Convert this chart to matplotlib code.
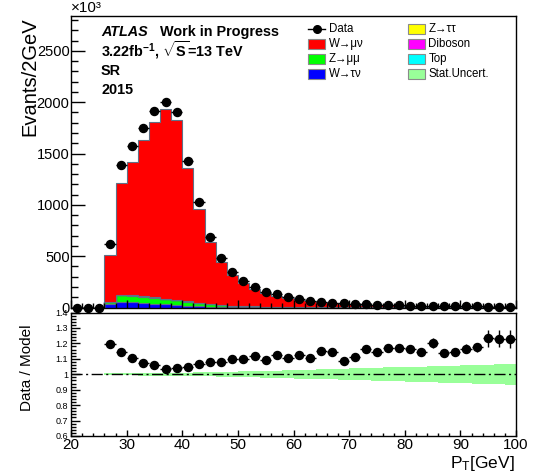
import numpy as np
import matplotlib
matplotlib.use("Agg")
import matplotlib.pyplot as plt
from matplotlib.patches import Rectangle
from matplotlib.lines import Line2D
from matplotlib.ticker import MultipleLocator, FuncFormatter

plt.rcParams['font.family'] = ['Liberation Sans', 'DejaVu Sans']
plt.rcParams['mathtext.fontset'] = 'custom'
plt.rcParams['mathtext.rm'] = 'Liberation Sans'
plt.rcParams['mathtext.it'] = 'Liberation Sans:italic'
plt.rcParams['mathtext.bf'] = 'Liberation Sans:bold'

# 2 GeV bins from 20 to 100 GeV
edges = np.arange(20, 102, 2)
centers = 0.5 * (edges[:-1] + edges[1:])

# events / 2 GeV (x10^3); first three bins are below the pT cut
data = [0, 0, 0,
        615, 1387, 1572, 1748, 1914, 2002, 1904, 1426, 1025, 690,
        480, 350, 262, 200, 155, 128, 103, 82, 68, 58,
        48, 40, 35, 31, 27, 24, 21, 18, 16, 15,
        13, 12, 11, 10, 9, 8, 7]
w_munu = [0, 0, 0,
          456.5, 1085.5, 1299.5, 1523.5, 1712, 1844.5, 1754, 1302.5, 916, 607.5,
          420.7, 300.3, 224.4, 168, 133, 106.4, 86.7, 67.1, 56.3, 45.9,
          38.2, 33.4, 28.3, 23.7, 20.8, 18.0, 15.5, 13.15, 11.77, 10.48,
          9.82, 8.91, 7.94, 7.01, 5.85, 5.1, 4.29]
z_mumu = [0, 0, 0,
          22, 62, 64, 60, 56, 52, 47, 40, 32, 24,
          17, 12, 9, 7, 5.5, 4.5, 3.8, 3.2, 2.7, 2.3,
          2.0, 1.7, 1.5, 1.3, 1.1, 1.0, 0.9, 0.8, 0.7, 0.6,
          0.5, 0.5, 0.4, 0.4, 0.35, 0.3, 0.3]
w_taunu = [0, 0, 0,
           30, 55, 50, 45, 38, 30, 24, 17, 11, 7,
           5, 3.5, 2.5, 2, 1.5, 1.2, 1, 0.8, 0.6, 0.5,
           0.4, 0.4, 0.3, 0.3, 0.3, 0.2, 0.2, 0.2, 0.2, 0.1,
           0.1, 0.1, 0.1, 0.1, 0.1, 0.1, 0.1]
z_tautau = [0, 0, 0,
            3, 5, 5, 4, 3.5, 3, 2.5, 2, 1.5, 1,
            0.8, 0.7, 0.6, 0.5, 0.5, 0.4, 0.4, 0.3, 0.3, 0.3,
            0.2, 0.2, 0.2, 0.2, 0.2, 0.1, 0.1, 0.1, 0.1, 0.1,
            0.1, 0.1, 0.1, 0.1, 0.1, 0.1, 0.1]
diboson = [0, 0, 0] + [0.5] * 20 + [0.4] * 10 + [0.3] * 7
top = [0, 0, 0] + [1.0] * 20 + [0.8] * 10 + [0.6] * 7

# data/model uncertainty and relative MC stat. uncertainty per bin
ratio_err = [0, 0, 0,
             0.004, 0.003, 0.003, 0.003, 0.003, 0.003, 0.003, 0.004, 0.005, 0.006,
             0.007, 0.008, 0.009, 0.010, 0.011, 0.012, 0.013, 0.014, 0.015, 0.016,
             0.017, 0.018, 0.019, 0.020, 0.021, 0.022, 0.023, 0.024, 0.025, 0.035,
             0.025, 0.025, 0.030, 0.030, 0.057, 0.057, 0.057]
mc_stat = [0, 0, 0,
           0.008, 0.008, 0.008, 0.009, 0.009, 0.010, 0.010, 0.011, 0.012, 0.013,
           0.015, 0.016, 0.018, 0.020, 0.022, 0.024, 0.026, 0.028, 0.030, 0.032,
           0.034, 0.036, 0.038, 0.040, 0.042, 0.044, 0.046, 0.048, 0.050, 0.052,
           0.054, 0.056, 0.058, 0.060, 0.062, 0.065, 0.068]

legend_entries = [("Data", None), ("W\u2192\u03bc\u03bd", "#ff0000"),
                  ("Z\u2192\u03bc\u03bc", "#00ff00"), ("W\u2192\u03c4\u03bd", "#0000ff"),
                  ("Z\u2192\u03c4\u03c4", "#ffff00"), ("Diboson", "#ff00ff"),
                  ("Top", "#00ffff"), ("Stat.Uncert.", "#99ff99")]

W, H = 535, 475
edge_c = "#5f7186"


def box(l, t, r, b):
    return [l / W, 1 - b / H, (r - l) / W, (b - t) / H]


fig = plt.figure(figsize=(W / 100, H / 100), dpi=100)
ax = fig.add_axes(box(71, 16, 516, 307.5))
rax = fig.add_axes(box(71, 312.5, 516, 436))

# stacked backgrounds, bottom to top
stack = [(w_taunu, "#0000ff"), (z_mumu, "#00ff00"), (z_tautau, "#ffff00"),
         (diboson, "#ff00ff"), (top, "#00ffff"), (w_munu, "#ff0000")]
base = np.zeros(len(centers))
for vals, col in stack:
    upper = base + np.asarray(vals, dtype=float)
    ax.stairs(upper, edges, baseline=base, fill=True, facecolor=col,
              edgecolor=edge_c, lw=0.8)
    base = upper
mc_total = base

data = np.asarray(data, dtype=float)
ax.errorbar(centers, data, xerr=1, fmt='none', ecolor='k', lw=1, capsize=0)
ax.plot(centers, data, 'o', color='k', ms=5.8, clip_on=False, zorder=5)

ax.set_xlim(20, 100)
ax.set_ylim(0, 2840)
ax.xaxis.set_major_locator(MultipleLocator(10))
ax.xaxis.set_minor_locator(MultipleLocator(2))
ax.yaxis.set_major_locator(MultipleLocator(500))
ax.yaxis.set_minor_locator(MultipleLocator(100))
ax.tick_params(which='both', direction='in', top=False, right=False,
               labelbottom=False, width=1)
ax.tick_params(axis='y', which='major', length=10, labelsize=10.5, pad=1)
ax.tick_params(axis='y', which='minor', length=5)
ax.tick_params(axis='x', which='major', length=6)
ax.tick_params(axis='x', which='minor', length=3.5)
ax.text(0, 1.004, "\u00d710\u00b3", transform=ax.transAxes, fontsize=11,
        ha='left', va='bottom')

# ratio panel
mask = mc_total > 0
ratio = data[mask] / mc_total[mask]
band = np.asarray(mc_stat, dtype=float)
e_lo = edges[:-1][mask]
e_hi = edges[1:][mask]
for lo, hi, b in zip(e_lo, e_hi, band[mask]):
    rax.fill_between([lo, hi], 1 - b, 1 + b, color="#99ff99", lw=0)
rax.plot([20, 100], [1, 1], color='k', lw=1, ls=(0, (8, 2.5, 1.5, 2.5)))
rax.errorbar(centers[mask], ratio, xerr=1, yerr=np.asarray(ratio_err)[mask],
             fmt='o', color='k', ms=5.8, lw=1, capsize=0)

rax.set_xlim(20, 100)
rax.set_ylim(0.6, 1.4)
rax.xaxis.set_major_locator(MultipleLocator(10))
rax.xaxis.set_minor_locator(MultipleLocator(2))
rax.yaxis.set_major_locator(MultipleLocator(0.1))
rax.yaxis.set_minor_locator(MultipleLocator(0.02))
rax.yaxis.set_major_formatter(FuncFormatter(lambda v, p: "%g" % round(v, 2)))
rax.tick_params(which='both', direction='in', top=False, right=False, width=1)
rax.tick_params(axis='y', which='major', length=6.5, labelsize=6.5, pad=2)
rax.tick_params(axis='y', which='minor', length=3.5)
rax.tick_params(axis='x', which='major', length=4.5, labelsize=11, pad=1.5)
rax.tick_params(axis='x', which='minor', length=2.2)

for a in (ax, rax):
    for s in a.spines.values():
        s.set_linewidth(1)

# axis titles
fig.text(30 / W, 1 - 17 / H, "Evants/2GeV", rotation=90, fontsize=14.5,
         ha='center', va='top')
fig.text(27 / W, 1 - 368 / H, "Data / Model", rotation=90, fontsize=11,
         ha='center', va='center')
fig.text(515 / W, 1 - 468 / H, r"P$_{\mathrm{T}}$[GeV]", fontsize=12.5,
         ha='right', va='baseline')

# labels in the upper left
fs = 10.4
fig.text(101 / W, 1 - 36 / H, "ATLAS", fontsize=fs, fontweight='bold',
         style='italic', va='baseline')
fig.text(160 / W, 1 - 36 / H, "Work in Progress", fontsize=fs,
         fontweight='bold', va='baseline')
fig.text(101 / W, 1 - 56.5 / H,
         r"3.22fb$^{\mathbf{-1}}$, $\sqrt{\mathbf{S}}$=13 TeV",
         fontsize=fs, fontweight='bold', va='baseline')
fig.text(101 / W, 1 - 75 / H, "SR", fontsize=fs, fontweight='bold',
         va='baseline')
fig.text(101 / W, 1 - 93.5 / H, "2015", fontsize=fs, fontweight='bold',
         va='baseline')

# legend, two columns of four
row_y = [29, 44, 59, 74]
col_x = [308, 408]
for i, (label, col) in enumerate(legend_entries):
    x0 = col_x[i // 4]
    y0 = row_y[i % 4]
    if col is None:
        fig.add_artist(Line2D([x0 / W, (x0 + 17) / W], [1 - y0 / H, 1 - y0 / H],
                              color='k', lw=1, transform=fig.transFigure))
        fig.add_artist(Line2D([(x0 + 8.5) / W], [1 - y0 / H], marker='o',
                              color='k', ms=5.5, transform=fig.transFigure))
    else:
        fig.add_artist(Rectangle((x0 / W, 1 - (y0 + 5) / H), 17 / W, 10 / H,
                                 facecolor=col, edgecolor="#8a8a8a", lw=0.8,
                                 transform=fig.transFigure))
    fig.text((x0 + 20.5) / W, 1 - y0 / H, label, fontsize=8.3, ha='left',
             va='center')

fig.savefig("out.png", dpi=100, facecolor='white')
